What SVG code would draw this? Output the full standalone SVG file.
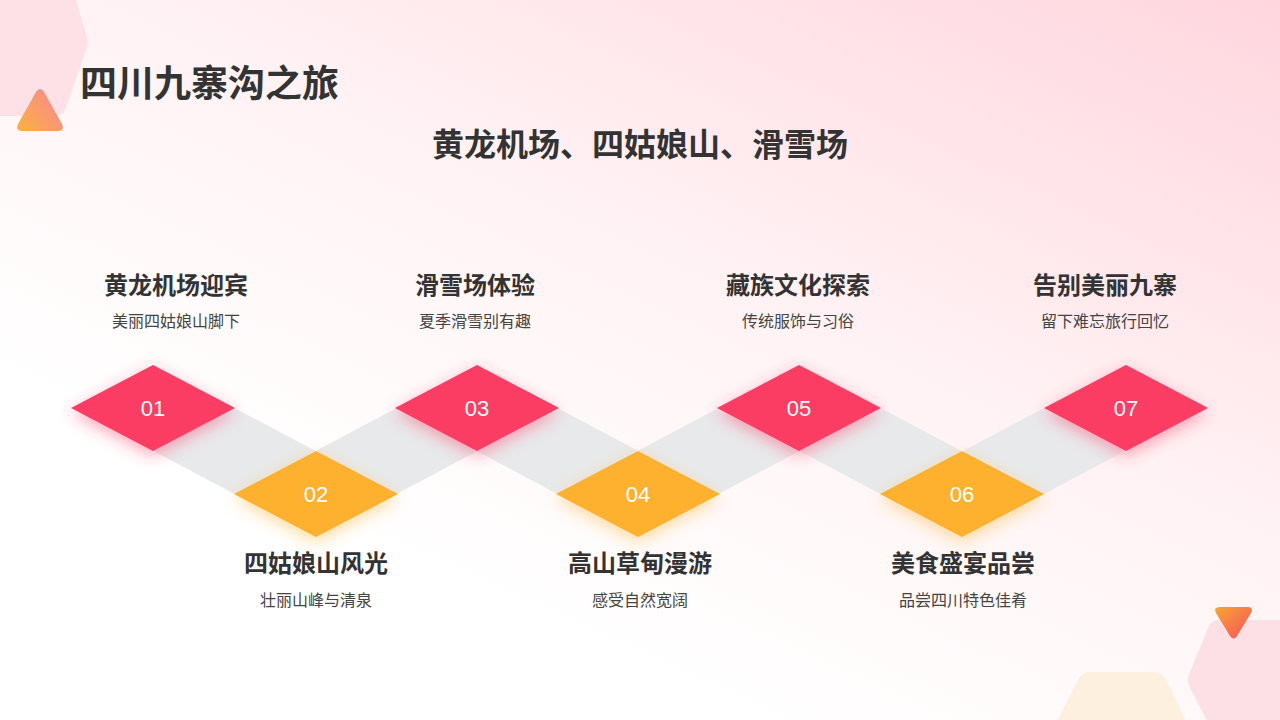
<svg xmlns="http://www.w3.org/2000/svg" width="1280" height="720" viewBox="0 0 1280 720">
<defs>
<linearGradient id="bg" x1="1" y1="0" x2="0.35" y2="0.8">
<stop offset="0" stop-color="#ffd6de"/>
<stop offset="0.55" stop-color="#fff2f4"/>
<stop offset="1" stop-color="#ffffff"/>
</linearGradient>
<linearGradient id="triA" x1="0" y1="1" x2="1" y2="0.3">
<stop offset="0" stop-color="#fbb23c"/>
<stop offset="1" stop-color="#f98a8c"/>
</linearGradient>
<linearGradient id="triB" x1="0" y1="0" x2="1" y2="1">
<stop offset="0" stop-color="#f9a534"/>
<stop offset="1" stop-color="#f4505a"/>
</linearGradient>
<filter id="shPink" x="-40%" y="-40%" width="180%" height="190%">
<feDropShadow dx="0" dy="5" stdDeviation="8" flood-color="#ff3d63" flood-opacity="0.45"/>
</filter>
<filter id="shYel" x="-40%" y="-40%" width="180%" height="190%">
<feDropShadow dx="0" dy="5" stdDeviation="8" flood-color="#fdb22e" flood-opacity="0.45"/>
</filter>
<style>
.pink{fill:#fc3d64;filter:url(#shPink)}
.yel{fill:#fdb12f;filter:url(#shYel)}
.band{fill:#e8e9eb}
.num{font-family:"Liberation Sans",Arial,sans-serif;font-size:22px;fill:#ffffff;text-anchor:middle}
.t{font-family:"Noto Sans CJK SC","Noto Sans",sans-serif;font-weight:bold;font-size:24px;fill:#333333;text-anchor:middle}
.s{font-family:"Noto Sans CJK SC","Noto Sans",sans-serif;font-size:16px;fill:#444444;text-anchor:middle}
</style>
</defs>
<rect width="1280" height="720" fill="url(#bg)"/>
<g id="decor">
<path d="M-40,-30 L58,-30 Q66,-30 70,-20 L86,34 Q89,42 86,50 L66,108 Q63,116 55,116 L-40,116 Z" fill="#fde1e6"/>
<path d="M36,92 Q40,86 44,92 L62,124 Q65,131 58,131 L22,131 Q15,131 18,124 Z" fill="url(#triA)"/>
<path d="M1218,620 L1300,620 L1300,740 L1217,740 L1190,688 Q1186,680 1190,672 L1208,628 Q1211,620 1218,620 Z" fill="#fde0e5"/>
<path d="M1090,672 L1155,672 Q1162,672 1166,680 L1188,725 L1055,725 L1078,680 Q1082,672 1090,672 Z" fill="#fdf0de"/>
<path d="M1220,607 L1248,607 Q1254,607 1251,613 L1237,636 Q1234,641 1230,636 L1216,613 Q1213,607 1220,607 Z" fill="url(#triB)"/>
</g>
<g id="title">
<text x="80" y="97" font-family="'Noto Sans CJK SC','Noto Sans',sans-serif" font-weight="bold" font-size="37" fill="#333333">四川九寨沟之旅</text>
<text x="640" y="156" font-family="'Noto Sans CJK SC','Noto Sans',sans-serif" font-weight="bold" font-size="32" fill="#333333" text-anchor="middle">黄龙机场、四姑娘山、滑雪场</text>
</g>
<g id="connectors">
<polygon class="band" points="153.5,451 234.5,408 315.5,451 234.5,494"/>
<polygon class="band" points="315.5,451 396.5,408 477.5,451 396.5,494"/>
<polygon class="band" points="476.5,451 557.5,408 638.5,451 557.5,494"/>
<polygon class="band" points="637.5,451 718.5,408 799.5,451 718.5,494"/>
<polygon class="band" points="799.5,451 880.5,408 961.5,451 880.5,494"/>
<polygon class="band" points="963,451 1044,408 1125,451 1044,494"/>
</g>
<g id="node01">
<polygon class="pink" points="71,408 153,365 235,408 153,451"/>
<text class="num" x="153" y="416">01</text>
<text class="t" x="176" y="294">黄龙机场迎宾</text>
<text class="s" x="176" y="327">美丽四姑娘山脚下</text>
</g>
<g id="node02">
<polygon class="yel" points="234,494 316,451 398,494 316,537"/>
<text class="num" x="316" y="502">02</text>
<text class="t" x="316" y="572">四姑娘山风光</text>
<text class="s" x="316" y="606">壮丽山峰与清泉</text>
</g>
<g id="node03">
<polygon class="pink" points="395,408 477,365 559,408 477,451"/>
<text class="num" x="477" y="416">03</text>
<text class="t" x="475" y="294">滑雪场体验</text>
<text class="s" x="475" y="327">夏季滑雪别有趣</text>
</g>
<g id="node04">
<polygon class="yel" points="556,494 638,451 720,494 638,537"/>
<text class="num" x="638" y="502">04</text>
<text class="t" x="640" y="572">高山草甸漫游</text>
<text class="s" x="640" y="606">感受自然宽阔</text>
</g>
<g id="node05">
<polygon class="pink" points="717,408 799,365 881,408 799,451"/>
<text class="num" x="799" y="416">05</text>
<text class="t" x="798" y="294">藏族文化探索</text>
<text class="s" x="798" y="327">传统服饰与习俗</text>
</g>
<g id="node06">
<polygon class="yel" points="880,494 962,451 1044,494 962,537"/>
<text class="num" x="962" y="502">06</text>
<text class="t" x="963" y="572">美食盛宴品尝</text>
<text class="s" x="963" y="606">品尝四川特色佳肴</text>
</g>
<g id="node07">
<polygon class="pink" points="1044,408 1126,365 1208,408 1126,451"/>
<text class="num" x="1126" y="416">07</text>
<text class="t" x="1105" y="294">告别美丽九寨</text>
<text class="s" x="1105" y="327">留下难忘旅行回忆</text>
</g>
</svg>
